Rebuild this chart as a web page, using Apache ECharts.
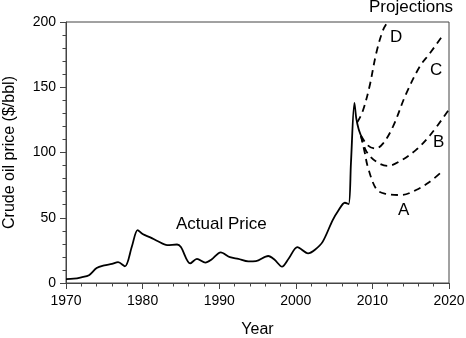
<!DOCTYPE html>
<html>
<head>
<meta charset="utf-8">
<script src="https://cdn.jsdelivr.net/npm/echarts@6/dist/echarts.min.js"></script>
<style>html,body{margin:0;padding:0;background:#fff}#c{width:466px;height:338px}</style>
</head>
<body>
<div id="c"></div>
<script>
// Actual price [year, $/bbl]
var actualPrice = [
  [1970,3],[1971,3.3],[1972,4.4],[1973,6],[1974,11.5],[1975,13.5],[1976,14.6],[1976.8,16],
  [1977.7,12.8],[1978.6,28],[1979.35,40.5],[1980,37.5],[1981,35],[1982,32],[1983.2,29],
  [1984.5,29.5],[1985,27.5],[1986.2,15],[1987.1,18.5],[1988.2,15.6],[1989,18],[1990.2,23.5],
  [1991.4,19.8],[1992.5,18.5],[1993.8,16.6],[1994.8,16.8],[1996.4,20.7],[1997.2,18],
  [1998.2,12.5],[1999.1,19],[2000.2,27.5],[2001.6,22.7],[2002.5,25.5],[2003.5,31.5],
  [2004.8,48],[2005.5,55],[2006.4,61.5],[2006.9,60.5],[2007.2,92],[2007.65,138],
  [2007.9,126],[2008.2,118],[2008.5,113]
];
var projD = [[2008.0,123],[2008.7,131],[2009.6,150],[2010.5,176],[2011.4,194],[2012.1,201]];
var projC = [[2008.5,113],[2009.4,105.5],[2010.4,103],[2011.4,107],[2012.7,120],[2014.4,145],[2016.2,166],[2017.5,176],[2019.1,189]];
var projB = [[2008.5,113],[2009.2,101],[2010.5,93],[2012,89.7],[2013.5,93],[2015.7,102],[2017.5,113],[2020,133]];
var projA = [[2008.5,113],[2009,100],[2009.4,89],[2010.5,72],[2011.6,68.5],[2013.8,67.4],[2015.7,71.3],[2017.5,77.6],[2019.2,86]];
var xTicks = [1970,1980,1990,2000,2010,2020];
var yTicks = [0,50,100,150,200];

var FONT = '"Liberation Sans", Arial, sans-serif';
var chart = echarts.init(document.getElementById('c'), null, {renderer:'canvas'});
function proj(name, data){
  return {name:name, type:'line', data:data, smooth:0.35, symbol:'none',
    lineStyle:{color:'#000', width:1.8, type:[7,5]}, z:2};
}
chart.setOption({
  animation:false,
  grid:{left:66, right:17, top:22, bottom:55, show:true, borderColor:'#444', borderWidth:1,
    containLabel:false, outerBoundsMode:'none'},
  xAxis:{type:'value', min:xTicks[0], max:xTicks[xTicks.length-1], interval:10,
    name:'Year', nameLocation:'middle', nameGap:39,
    nameTextStyle:{fontFamily:FONT, fontSize:16, color:'#000'},
    axisLine:{lineStyle:{color:'#444', width:1}},
    axisTick:{length:6, lineStyle:{color:'#444'}},
    minorTick:{show:true, splitNumber:5, length:3.5, lineStyle:{color:'#444'}},
    splitLine:{show:false},
    axisLabel:{fontFamily:FONT, fontSize:14, color:'#000', margin:11, formatter:function(v){return String(v);}}},
  yAxis:{type:'value', min:yTicks[0], max:yTicks[yTicks.length-1], interval:50,
    name:'Crude oil price ($/bbl)', nameLocation:'middle', nameGap:48,
    nameTextStyle:{fontFamily:FONT, fontSize:16, color:'#000'},
    axisLine:{show:true, lineStyle:{color:'#444', width:1}},
    axisTick:{show:true, length:6, lineStyle:{color:'#444'}},
    minorTick:{show:true, splitNumber:5, length:3.5, lineStyle:{color:'#444'}},
    splitLine:{show:false},
    axisLabel:{fontFamily:FONT, fontSize:14, color:'#000', margin:10, formatter:function(v){return String(v);}}},
  series:[
    {name:'Actual', type:'line', data:actualPrice, smooth:0.3, symbol:'none',
      lineStyle:{color:'#000', width:1.8}, z:3},
    proj('D', projD), proj('C', projC), proj('B', projB), proj('A', projA)
  ],
  graphic:[
    {type:'text', left:176, top:216, style:{text:'Actual Price', font:'17px '+FONT, fill:'#000'}},
    {type:'text', left:369, top:-1, style:{text:'Projections', font:'17px '+FONT, fill:'#000'}},
    {type:'text', left:390, top:29, style:{text:'D', font:'17px '+FONT, fill:'#000'}},
    {type:'text', left:430, top:62, style:{text:'C', font:'17px '+FONT, fill:'#000'}},
    {type:'text', left:433, top:134, style:{text:'B', font:'17px '+FONT, fill:'#000'}},
    {type:'text', left:398, top:202, style:{text:'A', font:'17px '+FONT, fill:'#000'}}
  ]
});
</script>
</body>
</html>
